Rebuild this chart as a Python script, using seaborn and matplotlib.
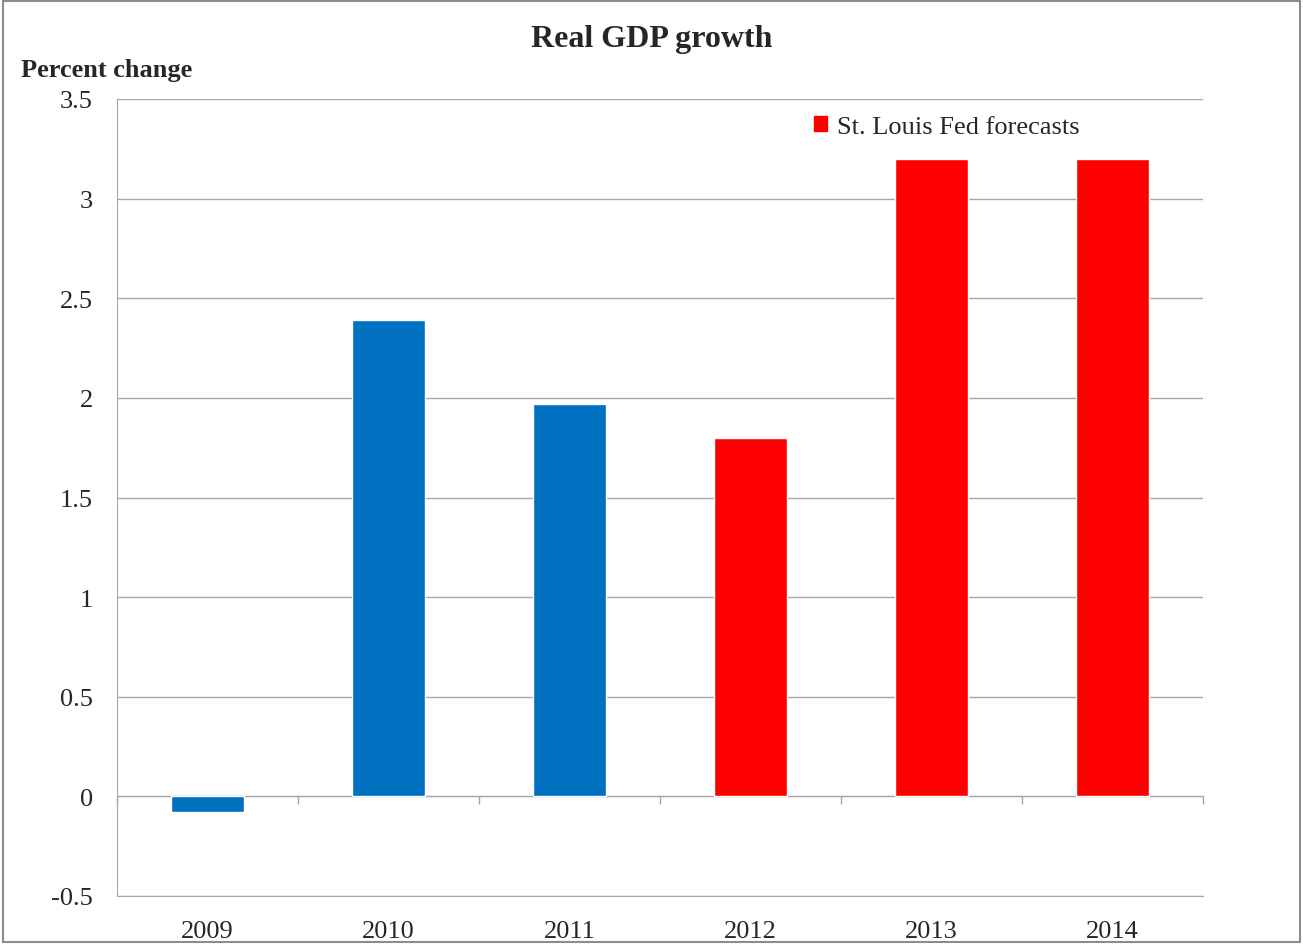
import numpy as np
import pandas as pd
import matplotlib
matplotlib.use("Agg")
import matplotlib.pyplot as plt
import seaborn as sns
from matplotlib.patches import Rectangle

years = ["2009", "2010", "2011", "2012", "2013", "2014"]
growth = [-0.08, 2.39, 1.97, 1.80, 3.20, 3.20]
kind = ["Actual", "Actual", "Actual",
        "St. Louis Fed forecasts", "St. Louis Fed forecasts", "St. Louis Fed forecasts"]
y_ticks = [-0.5, 0, 0.5, 1, 1.5, 2, 2.5, 3, 3.5]
y_tick_labels = ["-0.5", "0", "0.5", "1", "1.5", "2", "2.5", "3", "3.5"]

colors = {"Actual": "#0070C0", "St. Louis Fed forecasts": "#FF0000"}
grid_color = "#A6A6A6"

sns.set_style("white")
plt.rcParams['font.family'] = ['Liberation Serif', 'DejaVu Serif']

df = pd.DataFrame({"year": years, "growth": growth, "kind": kind})

fig = plt.figure(figsize=(13.03, 9.45), dpi=100)
ax = fig.add_axes([117 / 1303, 1 - 897 / 945, (1203 - 117) / 1303, (897 - 100) / 945])

sns.barplot(data=df, x="year", y="growth", hue="kind", palette=colors,
            dodge=False, width=0.4, legend=False, ax=ax, saturation=1)

ax.set_xlim(-0.5, len(years) - 0.5)
ax.set_ylim(-0.5, 3.5)
ax.set_yticks(y_ticks)
ax.set_yticklabels(y_tick_labels)
ax.yaxis.grid(True, color=grid_color, linewidth=1)
ax.set_axisbelow(True)

for side in ["top", "right"]:
    ax.spines[side].set_visible(False)
ax.spines["left"].set_color(grid_color)
ax.spines["bottom"].set_color(grid_color)

ax.tick_params(axis="y", length=6.5, width=1, color=grid_color, labelsize=19, pad=11)
ax.tick_params(axis="x", length=0, labelsize=19, pad=17)
ax.set_xlabel("")
ax.set_ylabel("")

# category axis sits at zero with tick marks between categories
zero_frac = (0 - (-0.5)) / 4.0
sec = ax.secondary_xaxis(zero_frac)
sec.set_xticks(np.arange(len(years) + 1) - 0.5)
sec.set_xticklabels([])
sec.tick_params(axis="x", direction="out", length=6, width=1, color=grid_color)
sec.spines["bottom"].set_color(grid_color)

handle = Rectangle((0, 0), 1, 1, color=colors["St. Louis Fed forecasts"])
ax.legend([handle], ["St. Louis Fed forecasts"], loc="upper left",
          bbox_to_anchor=(0.62, 1.009), frameon=False, fontsize=19,
          handlelength=0.5, handleheight=0.5, handletextpad=0.35)

fig.text(652 / 1303, 1 - 39 / 945, "Real GDP growth", ha="center", va="center",
         fontsize=23, fontweight="bold")
fig.text(21 / 1303, 1 - 70 / 945, "Percent change", ha="left", va="center",
         fontsize=19, fontweight="bold")

# outer frame
fig.patches.append(Rectangle((0.002, 0.002), 0.996, 0.996, transform=fig.transFigure,
                             fill=False, edgecolor="#8C8C8C", linewidth=1.5))

fig.savefig("out.png", dpi=100)
